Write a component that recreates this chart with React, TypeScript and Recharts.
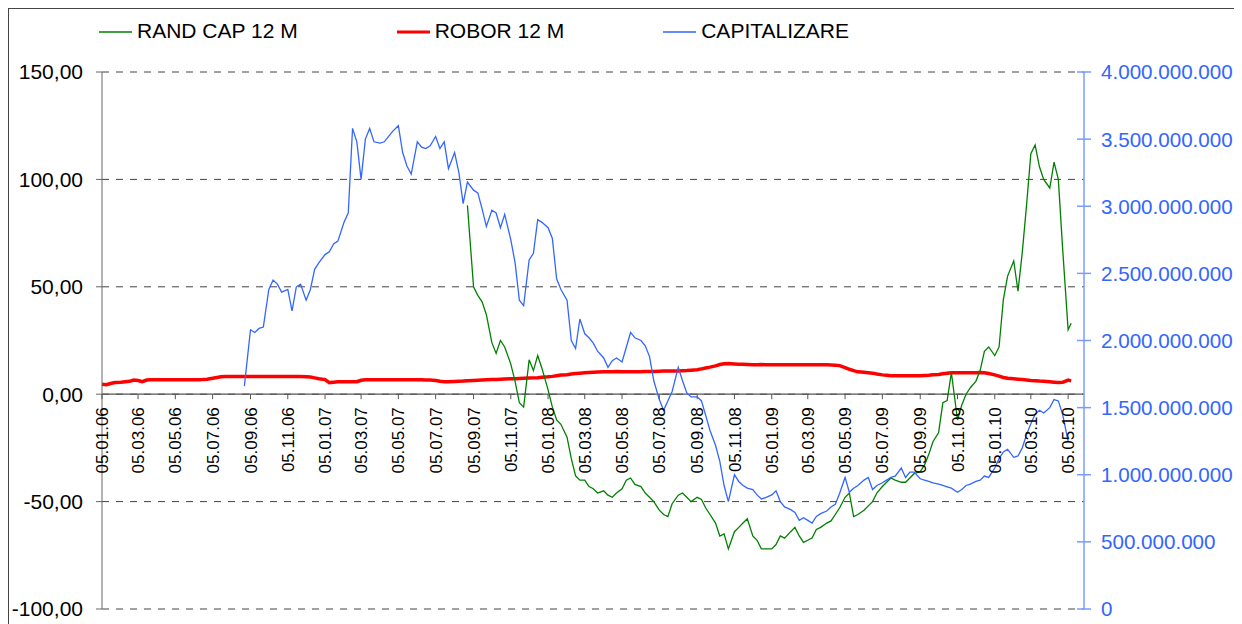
import { LineChart, Line, XAxis, YAxis, CartesianGrid, ReferenceLine } from 'recharts';

// weekly sample dates (dd.mm.yy)
const dates = [
  '05.01.06', '12.01.06', '19.01.06', '26.01.06', '05.02.06', '12.02.06', '19.02.06', '26.02.06',
  '05.03.06', '12.03.06', '19.03.06', '26.03.06', '05.04.06', '12.04.06', '19.04.06', '26.04.06',
  '05.05.06', '12.05.06', '19.05.06', '26.05.06', '05.06.06', '12.06.06', '19.06.06', '26.06.06',
  '05.07.06', '12.07.06', '19.07.06', '26.07.06', '05.08.06', '12.08.06', '19.08.06', '26.08.06',
  '05.09.06', '12.09.06', '19.09.06', '26.09.06', '05.10.06', '12.10.06', '19.10.06', '26.10.06',
  '05.11.06', '12.11.06', '19.11.06', '26.11.06', '05.12.06', '12.12.06', '19.12.06', '26.12.06',
  '05.01.07', '12.01.07', '19.01.07', '26.01.07', '05.02.07', '12.02.07', '19.02.07', '26.02.07',
  '05.03.07', '12.03.07', '19.03.07', '26.03.07', '05.04.07', '12.04.07', '19.04.07', '26.04.07',
  '05.05.07', '12.05.07', '19.05.07', '26.05.07', '05.06.07', '12.06.07', '19.06.07', '26.06.07',
  '05.07.07', '12.07.07', '19.07.07', '26.07.07', '05.08.07', '12.08.07', '19.08.07', '26.08.07',
  '05.09.07', '12.09.07', '19.09.07', '26.09.07', '05.10.07', '12.10.07', '19.10.07', '26.10.07',
  '05.11.07', '12.11.07', '19.11.07', '26.11.07', '05.12.07', '12.12.07', '19.12.07', '26.12.07',
  '05.01.08', '12.01.08', '19.01.08', '26.01.08', '05.02.08', '12.02.08', '19.02.08', '26.02.08',
  '05.03.08', '12.03.08', '19.03.08', '26.03.08', '05.04.08', '12.04.08', '19.04.08', '26.04.08',
  '05.05.08', '12.05.08', '19.05.08', '26.05.08', '05.06.08', '12.06.08', '19.06.08', '26.06.08',
  '05.07.08', '12.07.08', '19.07.08', '26.07.08', '05.08.08', '12.08.08', '19.08.08', '26.08.08',
  '05.09.08', '12.09.08', '19.09.08', '26.09.08', '05.10.08', '12.10.08', '19.10.08', '26.10.08',
  '05.11.08', '12.11.08', '19.11.08', '26.11.08', '05.12.08', '12.12.08', '19.12.08', '26.12.08',
  '05.01.09', '12.01.09', '19.01.09', '26.01.09', '05.02.09', '12.02.09', '19.02.09', '26.02.09',
  '05.03.09', '12.03.09', '19.03.09', '26.03.09', '05.04.09', '12.04.09', '19.04.09', '26.04.09',
  '05.05.09', '12.05.09', '19.05.09', '26.05.09', '05.06.09', '12.06.09', '19.06.09', '26.06.09',
  '05.07.09', '12.07.09', '19.07.09', '26.07.09', '05.08.09', '12.08.09', '19.08.09', '26.08.09',
  '05.09.09', '12.09.09', '19.09.09', '26.09.09', '05.10.09', '12.10.09', '19.10.09', '26.10.09',
  '05.11.09', '12.11.09', '19.11.09', '26.11.09', '05.12.09', '12.12.09', '19.12.09', '26.12.09',
  '05.01.10', '12.01.10', '19.01.10', '26.01.10', '05.02.10', '12.02.10', '19.02.10', '26.02.10',
  '05.03.10', '12.03.10', '19.03.10', '26.03.10', '05.04.10', '12.04.10', '19.04.10', '26.04.10',
  '05.05.10', '10.05.10',
];

const tickDates = [
  '05.01.06', '05.03.06', '05.05.06', '05.07.06', '05.09.06', '05.11.06',
  '05.01.07', '05.03.07', '05.05.07', '05.07.07', '05.09.07', '05.11.07',
  '05.01.08', '05.03.08', '05.05.08', '05.07.08', '05.09.08', '05.11.08',
  '05.01.09', '05.03.09', '05.05.09', '05.07.09', '05.09.09', '05.11.09',
  '05.01.10', '05.03.10', '05.05.10',
];
const axisEnd = '31.05.10';

const leftTicks = [-100, -50, 0, 50, 100, 150];
const rightTicks = [0, 500, 1000, 1500, 2000, 2500, 3000, 3500, 4000]; // millions

// ROBOR 12 M, %, from 05.01.06
const roborValues = [
  4.6, 4.4, 5.0, 5.4, 5.6, 5.8, 6.0, 6.6, 6.4, 5.8, 6.6, 6.7, 6.7, 6.7, 6.7, 6.7,
  6.7, 6.7, 6.7, 6.7, 6.7, 6.7, 6.8, 7.0, 7.4, 7.8, 8.1, 8.2, 8.2, 8.2, 8.2, 8.2,
  8.2, 8.2, 8.2, 8.2, 8.2, 8.2, 8.2, 8.2, 8.2, 8.2, 8.2, 8.2, 8.1, 8.0, 7.6, 7.2,
  6.8, 5.4, 5.6, 5.8, 5.8, 5.8, 5.8, 5.8, 6.5, 6.7, 6.7, 6.7, 6.7, 6.7, 6.7, 6.7,
  6.7, 6.7, 6.7, 6.7, 6.7, 6.7, 6.6, 6.6, 6.4, 6.0, 5.8, 5.8, 5.9, 6.0, 6.1, 6.3,
  6.4, 6.5, 6.6, 6.7, 6.8, 6.9, 7.0, 7.1, 7.2, 7.2, 7.3, 7.4, 7.5, 7.6, 7.7, 7.9,
  8.1, 8.3, 8.6, 8.9, 9.1, 9.4, 9.6, 9.8, 10.0, 10.1, 10.2, 10.3, 10.4, 10.5, 10.5, 10.6,
  10.5, 10.5, 10.5, 10.5, 10.5, 10.6, 10.6, 10.6, 10.7, 10.8, 10.8, 10.8, 10.8, 10.9, 11.0, 11.2,
  11.4, 11.8, 12.2, 12.6, 13.2, 13.8, 14.2, 14.3, 14.1, 14.0, 13.9, 13.8, 13.7, 13.7, 13.8, 13.7,
  13.7, 13.7, 13.7, 13.7, 13.7, 13.7, 13.7, 13.7, 13.7, 13.7, 13.7, 13.7, 13.7, 13.6, 13.5, 13.3,
  12.4, 11.6, 11.0, 10.4, 10.2, 10.0, 9.8, 9.4, 9.0, 8.8, 8.6, 8.6, 8.6, 8.6, 8.6, 8.6,
  8.6, 8.7, 8.8, 9.0, 9.2, 9.5, 9.8, 10.0, 10.0, 10.0, 10.0, 10.0, 10.0, 10.1, 10.0, 9.6,
  9.0, 8.4, 7.8, 7.4, 7.2, 7.0, 6.8, 6.6, 6.4, 6.3, 6.1, 6.0, 5.8, 5.6, 5.4, 5.5,
  6.6, 6.2,
];

// CAPITALIZARE, millions, from 26.08.06
const capStart = '26.08.06';
const capValues = [
  1660,
  2080, 2060, 2090, 2100, 2380, 2450, 2420, 2360, 2380, 2220, 2400, 2420, 2300, 2380, 2530, 2580,
  2640, 2660, 2720, 2740, 2880, 2950, 3580, 3480, 3200, 3500, 3580, 3480, 3470, 3480, 3520, 3560,
  3600, 3400, 3300, 3240, 3480, 3440, 3430, 3450, 3520, 3430, 3480, 3280, 3400, 3250, 3020, 3180,
  3120, 3100, 2980, 2850, 2970, 2950, 2840, 2940, 2750, 2580, 2300, 2260, 2600, 2650, 2900, 2880,
  2840, 2760, 2460, 2380, 2300, 2000, 1940, 2160, 2050, 2020, 1980, 1920, 1870, 1800, 1850, 1870,
  1840, 1950, 2060, 2020, 2000, 1960, 1880, 1700, 1560, 1480, 1550, 1620, 1800, 1700, 1610, 1580,
  1580, 1550, 1440, 1330, 1220, 1100, 920, 800, 1000, 950, 920, 900, 890, 850, 820, 830,
  850, 880, 800, 760, 740, 720, 660, 680, 660, 640, 690, 710, 730, 760, 780, 860,
  980, 870, 900, 920, 960, 980, 890, 920, 940, 960, 980, 990, 1050, 980, 1020, 1020,
  970, 960, 950, 940, 930, 920, 910, 900, 870, 890, 920, 930, 950, 960, 990, 980,
  1050, 1120, 1170, 1190, 1130, 1140, 1200, 1300, 1380, 1450, 1480, 1460, 1500, 1560, 1550, 1450,
  1250,
];

// RAND CAP 12 M, %, from 26.08.07
const randStart = '26.08.07';
const randValues = [
  88,
  50, 46, 43, 37, 24, 19, 25, 22, 14, 6, -4, -6, 16, 11, 18, 12,
  2, -6, -12, -14, -20, -30, -38, -40, -40, -43, -44, -46, -45, -47, -48, -46,
  -44, -40, -39, -42, -43, -46, -48, -50, -54, -56, -57, -51, -47, -46, -48, -50,
  -48, -49, -53, -56, -60, -66, -65, -72, -64, -62, -60, -58, -66, -68, -72, -72,
  -72, -70, -66, -67, -64, -62, -66, -69, -68, -67, -63, -62, -60, -59, -56, -53,
  -48, -46, -57, -56, -54, -52, -50, -46, -43, -41, -39, -40, -41, -41, -39, -37,
  -36, -33, -28, -22, -18, -4, -3, 10, -12, -5, 0, 3, 6, 11, 20, 22,
  18, 22, 44, 55, 62, 48, 66, 88, 112, 116, 106, 100, 96, 108, 100, 68,
  30, 33,
];

const series = [
  { key: 'robor', name: 'ROBOR 12 M', color: '#ff0000', width: 3.5, axis: 'left' },
  { key: 'rand', name: 'RAND CAP 12 M', color: '#008000', width: 1.3, axis: 'left' },
  { key: 'cap', name: 'CAPITALIZARE', color: '#3366ff', width: 1.3, axis: 'right' },
];
const legendOrder = ['rand', 'robor', 'cap'];

const FONT = '"Liberation Sans", Arial, Helvetica, sans-serif';
const W = 1227;
const H = 630;
const TOP = 63;
const LEFT_W = 93;
const RIGHT_W = 152;
const X_H = 30;
const PLOT_H = H - TOP - X_H;
const LEFT_MIN = -100;
const LEFT_MAX = 150;

function toTime(d: string) {
  const [dd, mm, yy] = d.split('.').map(Number);
  return Date.UTC(2000 + yy, mm - 1, dd);
}

const capOffset = dates.indexOf(capStart);
const randOffset = dates.indexOf(randStart);
const rows = dates.map((d, i) => ({
  t: toTime(d),
  robor: roborValues[i] ?? null,
  cap: i >= capOffset ? capValues[i - capOffset] ?? null : null,
  rand: i >= randOffset ? randValues[i - randOffset] ?? null : null,
}));

const tickTimes = tickDates.map(toTime);

function DateTick({ x, payload }: any) {
  // the date labels hang from the 0 line of the left axis
  const zeroY = TOP + (PLOT_H * LEFT_MAX) / (LEFT_MAX - LEFT_MIN);
  const label = tickDates[tickTimes.indexOf(payload.value)];
  return (
    <g>
      <line x1={x} x2={x} y1={zeroY} y2={zeroY + 5} stroke="#555" />
      <text
        transform={`translate(${x},${zeroY + 13}) rotate(-90)`}
        textAnchor="end"
        dy="0.36em"
        fontSize={17}
        fontFamily={FONT}
        fill="#000"
      >
        {label}
      </text>
    </g>
  );
}

function RightTick({ x, y, payload }: any) {
  const axisX = x - 7 - 10;
  const label = String(payload.value * 1000000).replace(/\B(?=(\d{3})+(?!\d))/g, '.');
  return (
    <g>
      <line x1={axisX - 7} x2={axisX + 7} y1={y} y2={y} stroke="#7b9cff" strokeWidth={1.5} />
      <text x={x} y={y} dy="0.36em" fontSize={20.6} fontFamily={FONT} fill="#3366ff">
        {label}
      </text>
    </g>
  );
}

export default function App() {
  const legendItems = legendOrder.map(k => series.find(s => s.key === k)!);
  return (
    <div style={{ position: 'relative', width: W, height: H, border: '1px solid #444', fontFamily: FONT }}>
      <div style={{ position: 'absolute', top: 10, left: 90, display: 'flex', gap: 99, fontSize: 21, lineHeight: '24px', color: '#000' }}>
        {legendItems.map(s => (
          <div key={s.key} style={{ display: 'flex', alignItems: 'center' }}>
            <svg width={33} height={24} style={{ marginRight: 5 }}>
              <line x1={0} x2={33} y1={13} y2={13} stroke={s.color} strokeWidth={s.key === 'robor' ? 3 : 1.5} />
            </svg>
            <span>{s.name}</span>
          </div>
        ))}
      </div>
      <LineChart width={W} height={H} data={rows} margin={{ top: TOP, right: 0, bottom: 0, left: 0 }}>
        <CartesianGrid yAxisId="left" vertical={false} stroke="#444" strokeDasharray="7 7" />
        <XAxis
          dataKey="t"
          type="number"
          scale="linear"
          domain={[toTime(tickDates[0]), toTime(axisEnd)]}
          ticks={tickTimes}
          interval={0}
          height={X_H}
          tickSize={0}
          tickMargin={0}
          tickLine={false}
          axisLine={false}
          tick={(p: any) => <DateTick {...p} />}
        />
        <YAxis
          yAxisId="left"
          domain={[LEFT_MIN, LEFT_MAX]}
          ticks={leftTicks}
          interval={0}
          width={LEFT_W}
          tickSize={6}
          tickMargin={13}
          stroke="#666"
          tick={{ fontSize: 21, fill: '#000', fontFamily: FONT }}
          tickFormatter={(v: number) => v.toFixed(2).replace('.', ',')}
        />
        <YAxis
          yAxisId="right"
          orientation="right"
          domain={[0, 4000]}
          ticks={rightTicks}
          interval={0}
          width={RIGHT_W}
          tickSize={7}
          tickMargin={10}
          tickLine={false}
          axisLine={{ stroke: '#7b9cff', strokeWidth: 1.5 }}
          tick={(p: any) => <RightTick {...p} />}
        />
        <ReferenceLine yAxisId="left" y={0} stroke="#555" strokeWidth={1.2} />
        {series.map(s => (
          <Line
            key={s.key}
            yAxisId={s.axis}
            dataKey={s.key}
            name={s.name}
            type="linear"
            stroke={s.color}
            strokeWidth={s.width}
            dot={false}
            activeDot={false}
            connectNulls={false}
            isAnimationActive={false}
          />
        ))}
      </LineChart>
    </div>
  );
}
